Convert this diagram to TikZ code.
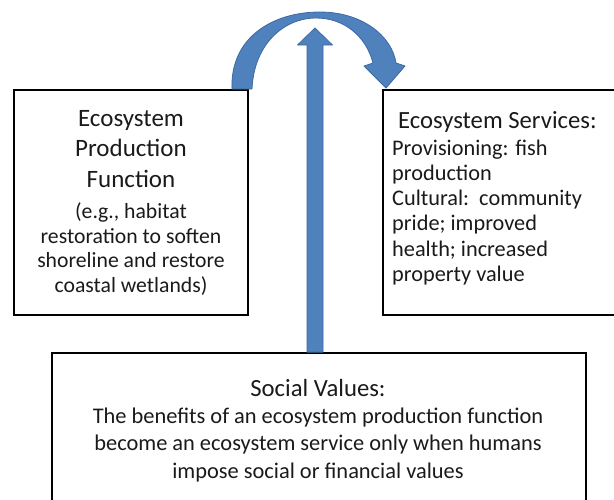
\documentclass[tikz,border=0pt]{standalone}
\usepackage{fontspec}
\setmainfont{Carlito}
\usetikzlibrary{calc}
\definecolor{arrowblue}{HTML}{4F81BD}
\definecolor{arrowedge}{HTML}{3D6AA3}
\definecolor{textgray}{HTML}{1A1A1A}
\newcommand{\epfbody}{\fontsize{21.7}{24}\selectfont}
\tikzset{
  box/.style={draw=black, line width=1.8pt, rectangle, inner sep=0pt},
  blockarrow/.style={fill=arrowblue, draw=arrowedge, line width=0.8pt, line join=round},
  boxtext/.style={inner sep=0pt, text=textgray},
}
\begin{document}
\begin{tikzpicture}[x=1pt,y=-1pt]
\useasboundingbox (0,0) rectangle (614,499);

% left box: ecosystem production function
\node[box, boxtext, minimum width=234pt, minimum height=225pt, align=center,
      font=\fontsize{25}{24}\selectfont] (epf) at (131,202.5)
  {Ecosystem\\[6.5pt]Production\\[6.5pt]Function\\[7.5pt]\epfbody (e.g., habitat\\[0.5pt]\epfbody restoration to soften\\[0.5pt]\epfbody shoreline and restore\\[0.5pt]\epfbody coastal wetlands)};

% right box: ecosystem services
\node[box, minimum width=257pt, minimum height=225pt] (es) at (511.5,202.5) {};
\node[boxtext, anchor=north west, align=left, font=\fontsize{22.3}{25.3}\selectfont] (estext) at (392,111)
  {\hspace*{6pt}{\fontsize{24.7}{25.3}\selectfont Ecosystem Services:}\\[1.5pt]Provisioning: fish\\production\\Cultural:\ \ community\\pride; improved\\health; increased\\property value};

% bottom box: social values
\node[box, minimum width=534pt, minimum height=180pt] (sv) at (319,443) {};
\node[boxtext, anchor=north, align=center, font=\fontsize{22.4}{27.3}\selectfont] (svtext) at (318,379)
  {{\fontsize{24.7}{27.3}\selectfont Social Values:}\\The benefits of an ecosystem production function\\become an ecosystem service only when humans\\impose social or financial values};

% vertical block arrow from social values upward
\coordinate (vtip) at (315,28);
\path (sv.north -| vtip) coordinate (vbase);
\draw[blockarrow] ($(vbase)+(-8,0)$) -- ($(vtip)+(-8,17)$) -- ($(vtip)+(-17.5,17)$) -- (vtip)
  -- ($(vtip)+(17.5,17)$) -- ($(vtip)+(8,17)$) -- ($(vbase)+(8,0)$) -- cycle;

% curved block arrow from production function to services
\coordinate (ctip) at (386,88);
\draw[blockarrow] (232,89) .. controls (230,38) and (272,12) .. (320,12)
  .. controls (362,12) and (392,36) .. (396,63) -- (405,66) -- (ctip) -- (364,66) -- (373,63)
  .. controls (366,36) and (344,18) .. (316,18)
  .. controls (284,18) and (254,44) .. (252,89) -- cycle;
\end{tikzpicture}
\end{document}
